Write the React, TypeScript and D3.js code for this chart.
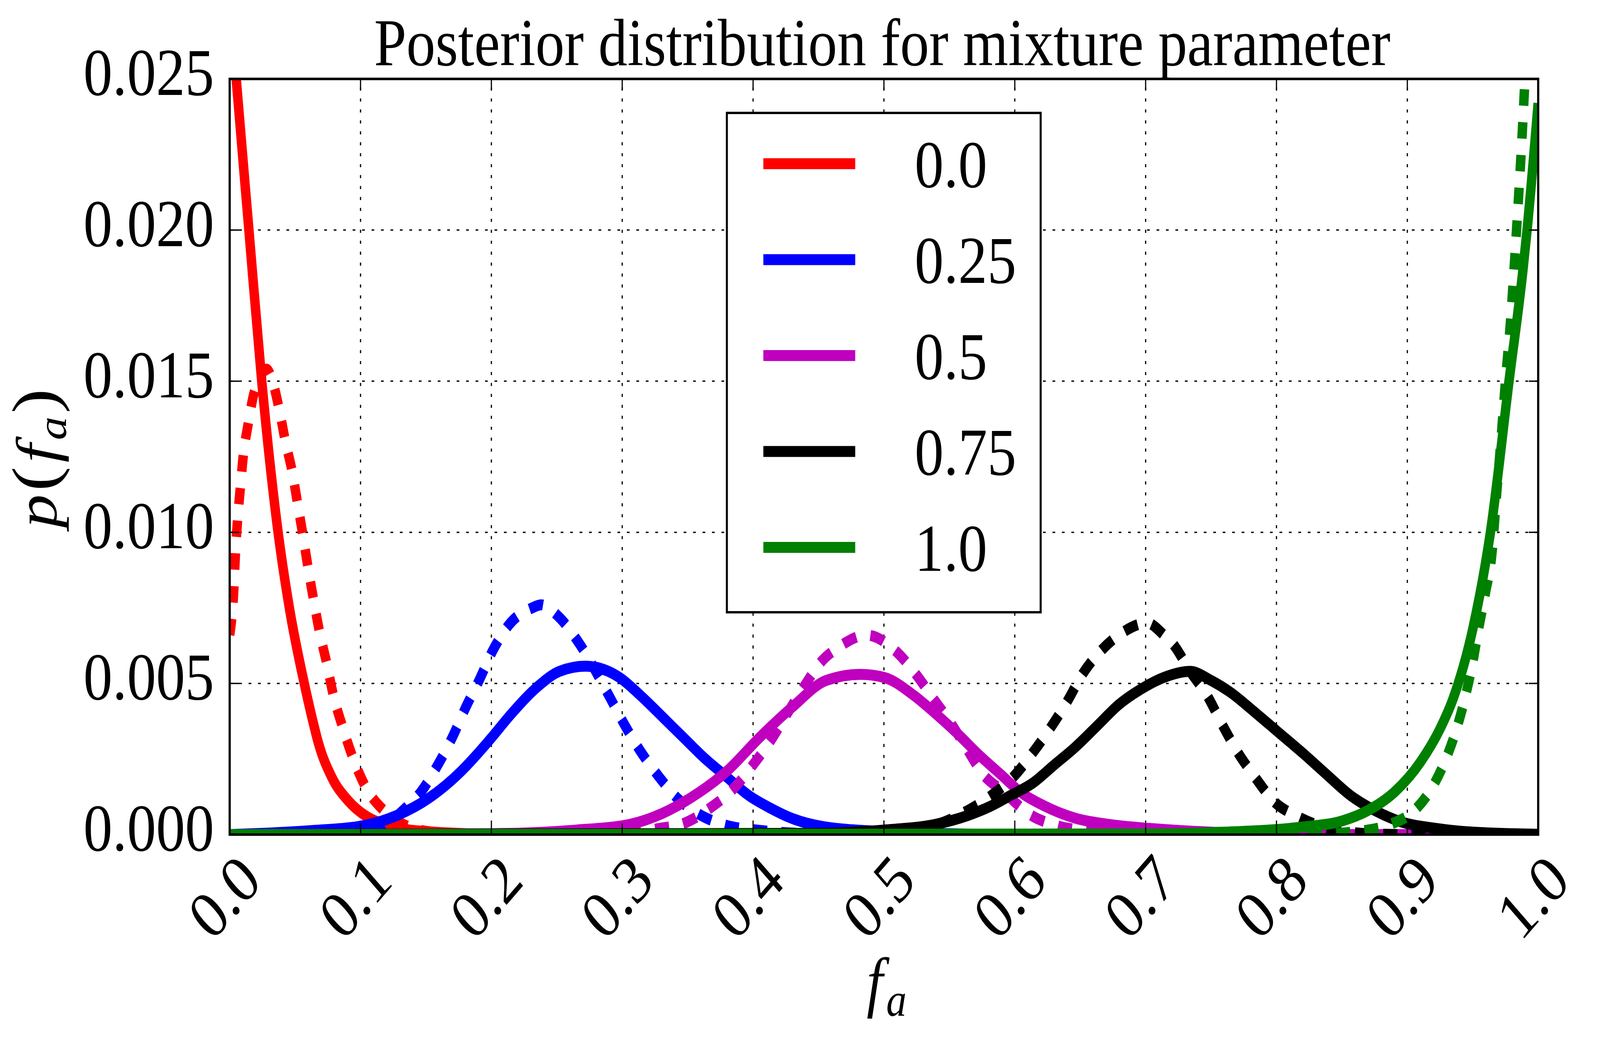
import { useEffect } from "react";
import * as d3 from "d3";

// Posterior distribution for the mixture parameter f_a.
// Solid = one estimator, dashed = the other, one colour per true mixture value.

const WIDTH = 4737;
const HEIGHT = 2672;
const PLOT = { left: 680, right: 4554, top: 202, bottom: 2136 };
const FONT = '"Liberation Serif","Times New Roman",serif';
const FS = 172;

const X_TICKS = [0, 0.1, 0.2, 0.3, 0.4, 0.5, 0.6, 0.7, 0.8, 0.9, 1.0];
const Y_TICKS = [0, 0.005, 0.01, 0.015, 0.02, 0.025];

const LEGEND_LABELS = ["0.0", "0.25", "0.5", "0.75", "1.0"];
const COLORS = ["#ff0000", "#0000ff", "#bf00bf", "#000000", "#008000"];

// [f_a, p(f_a)]
const RED_SOLID: [number, number][] = [
  [0, 0.0278], [0.005, 0.025], [0.0147, 0.02], [0.0245, 0.015], [0.037, 0.01],
  [0.046, 0.0074], [0.057, 0.005], [0.0633, 0.0038], [0.068, 0.003], [0.078, 0.0019],
  [0.091, 0.0011], [0.1046, 0.0006], [0.117, 0.00035], [0.13, 0.0002], [0.15, 0.0001],
  [0.18, 0.00003], [0.22, 0], [1.0, 0],
];
const RED_DASHED: [number, number][] = [
  [0, 0.0066], [0.003, 0.008], [0.0045, 0.0094], [0.006, 0.0104], [0.0082, 0.0115],
  [0.0103, 0.0125], [0.0142, 0.0136], [0.018, 0.0145], [0.023, 0.0151], [0.028, 0.0154],
  [0.032, 0.0151], [0.0377, 0.0141], [0.0426, 0.013], [0.0478, 0.012], [0.0519, 0.01095],
  [0.056, 0.0099], [0.06, 0.0088], [0.064, 0.0078], [0.0687, 0.0067], [0.074, 0.0057],
  [0.0793, 0.0046], [0.086, 0.0036], [0.0937, 0.0026], [0.1036, 0.0016], [0.1177, 0.0008],
  [0.13, 0.0004], [0.145, 0.00015], [0.17, 0.00003], [0.2, 0], [1.0, 0],
];
const BLUE_SOLID: [number, number][] = [
  [0, 0], [0.03, 0.00005], [0.062, 0.00013], [0.103, 0.0003], [0.1276, 0.00063],
  [0.152, 0.0012], [0.177, 0.0021], [0.19, 0.0027], [0.2, 0.0032], [0.2154, 0.004],
  [0.2355, 0.0049], [0.252, 0.0054], [0.272, 0.00557], [0.2978, 0.0052], [0.314, 0.0046],
  [0.3306, 0.0039], [0.347, 0.0032], [0.3636, 0.0025], [0.38, 0.0019], [0.3965, 0.0013],
  [0.413, 0.00088], [0.4295, 0.00054], [0.454, 0.00026], [0.5, 0.0001], [0.55, 0.00003],
  [0.6, 0], [1.0, 0],
];
const BLUE_DASHED: [number, number][] = [
  [0, 0], [0.08, 0], [0.1, 0.00005], [0.115, 0.0002], [0.1325, 0.0008], [0.1465, 0.00143],
  [0.159, 0.0023], [0.1705, 0.00325], [0.1803, 0.0042], [0.1906, 0.0051], [0.2012, 0.0061],
  [0.2136, 0.00695], [0.2312, 0.0075], [0.238, 0.0076], [0.2516, 0.0072], [0.266, 0.0064],
  [0.2898, 0.0046], [0.3009, 0.0037], [0.3133, 0.0028], [0.3265, 0.002], [0.3422, 0.0012],
  [0.36, 0.00064], [0.38, 0.0003], [0.405, 0.00014], [0.43, 0.00005], [0.48, 0], [1.0, 0],
];
const MAGENTA_SOLID: [number, number][] = [
  [0, 0], [0.2, 0.00003], [0.265, 0.00015], [0.306, 0.00034], [0.3306, 0.0007],
  [0.3554, 0.0013], [0.38, 0.0021], [0.4047, 0.0032], [0.4295, 0.0042], [0.456, 0.0051],
  [0.482, 0.0053], [0.5, 0.0052], [0.523, 0.0046], [0.5395, 0.004], [0.556, 0.00335],
  [0.5723, 0.00265], [0.589, 0.002], [0.6054, 0.00137], [0.622, 0.00096], [0.6464, 0.00054],
  [0.671, 0.00034], [0.704, 0.0002], [0.75, 0.00008], [0.8, 0.00002], [0.85, 0], [1.0, 0],
];
const MAGENTA_DASHED: [number, number][] = [
  [0, 0], [0.28, 0.00002], [0.3, 0.00006], [0.3277, 0.0002], [0.3487, 0.0004],
  [0.3678, 0.0009], [0.3846, 0.0015], [0.3998, 0.0023], [0.4133, 0.0031], [0.426, 0.004],
  [0.439, 0.0049], [0.4517, 0.0057], [0.4654, 0.0062], [0.4868, 0.0066], [0.5083, 0.0061],
  [0.5245, 0.0053], [0.5377, 0.0045], [0.551, 0.0037], [0.5625, 0.0029], [0.5757, 0.002],
  [0.592, 0.0014], [0.6103, 0.0007], [0.6317, 0.0003], [0.6547, 0.00013], [0.7, 0.00002],
  [0.75, 0], [1.0, 0],
];
const BLACK_SOLID: [number, number][] = [
  [0, 0], [0.45, 0.00004], [0.5, 0.00015], [0.5395, 0.00034], [0.564, 0.00063],
  [0.5806, 0.00092], [0.597, 0.0013], [0.6136, 0.0017], [0.63, 0.0023], [0.6464, 0.0029],
  [0.663, 0.0036], [0.6795, 0.0043], [0.696, 0.0048], [0.714, 0.0052], [0.734, 0.0054],
  [0.75, 0.0051], [0.765, 0.0047], [0.782, 0.0041], [0.801, 0.0034], [0.82, 0.0027],
  [0.838, 0.002], [0.857, 0.00128], [0.876, 0.00078], [0.8946, 0.00043], [0.9228, 0.0002],
  [0.95, 0.00008], [1.0, 0.00001],
];
const BLACK_DASHED: [number, number][] = [
  [0, 0], [0.45, 0], [0.48, 0.00003], [0.52, 0.00015], [0.543, 0.00037], [0.5643, 0.0008],
  [0.5823, 0.0013], [0.5987, 0.0019], [0.6136, 0.0027], [0.6268, 0.0035], [0.64, 0.0044],
  [0.6516, 0.0053], [0.6663, 0.0061], [0.6828, 0.0067], [0.701, 0.007], [0.714, 0.0066],
  [0.721, 0.0063], [0.734, 0.0054], [0.747, 0.0046], [0.759, 0.0036], [0.7707, 0.0027],
  [0.7836, 0.0019], [0.798, 0.0011], [0.816, 0.0006], [0.84, 0.0002], [0.87, 0.00003],
  [0.9, 0], [1.0, 0],
];
const GREEN_SOLID: [number, number][] = [
  [0, 0], [0.7, 0.00002], [0.76, 0.00008], [0.8197, 0.00025], [0.85, 0.00045],
  [0.87, 0.0008], [0.89, 0.0014], [0.91, 0.0024], [0.925, 0.0035], [0.935, 0.0045],
  [0.95, 0.0068], [0.9635, 0.01], [0.9777, 0.015], [0.9884, 0.0187], [0.9915, 0.02],
  [1.0, 0.0242],
];
const GREEN_DASHED: [number, number][] = [
  [0, 0], [0.8, 0], [0.84, 0.00003], [0.862, 0.0001], [0.887, 0.00034], [0.906, 0.00082],
  [0.9199, 0.00163], [0.93, 0.00256], [0.938, 0.00355], [0.9445, 0.0046], [0.95, 0.0057],
  [0.954, 0.0067], [0.9597, 0.008], [0.9644, 0.0092], [0.9683, 0.0113], [0.972, 0.0133],
  [0.975, 0.015], [0.9787, 0.0169], [0.9814, 0.0186], [0.9843, 0.0206], [0.9873, 0.0228],
  [0.9897, 0.0248], [0.992, 0.0266],
];

const SOLID_SERIES = [RED_SOLID, BLUE_SOLID, MAGENTA_SOLID, BLACK_SOLID, GREEN_SOLID];
const DASHED_SERIES = [RED_DASHED, BLUE_DASHED, MAGENTA_DASHED, BLACK_DASHED, GREEN_DASHED];

const LINE_W = 28;
const TICK_LEN = 28;

export default function App() {
  // drop the default body margin so the figure fills the page
  useEffect(() => {
    document.body.style.margin = "0";
    document.documentElement.style.overflow = "hidden";
  }, []);

  const x = d3.scaleLinear().domain([0, 1]).range([PLOT.left, PLOT.right]);
  const y = d3.scaleLinear().domain([0, 0.025]).range([PLOT.bottom, PLOT.top]);
  const line = d3
    .line<[number, number]>()
    .x((d) => x(d[0]))
    .y((d) => y(d[1]))
    .curve(d3.curveMonotoneX);

  const plotW = PLOT.right - PLOT.left;
  const plotH = PLOT.bottom - PLOT.top;
  const cx = (PLOT.left + PLOT.right) / 2;

  // legend layout
  const LEG = { x0: 2152, x1: 3081, y0: 289, y1: 1567 };
  const legRowY = (i: number) => 419 + i * 245.5;

  return (
    <svg
      viewBox={`0 0 ${WIDTH} ${HEIGHT}`}
      preserveAspectRatio="none"
      style={{
        position: "fixed",
        left: 0,
        top: 0,
        width: "100vw",
        height: "100vh",
        display: "block",
        background: "#fff",
      }}
      fontFamily={FONT}
    >
      <defs>
        <clipPath id="plot-clip">
          <rect x={PLOT.left} y={PLOT.top} width={plotW} height={plotH} />
        </clipPath>
      </defs>
      <rect width={WIDTH} height={HEIGHT} fill="#fff" />

      {/* grid */}
      <g stroke="#000" strokeWidth={3.5} strokeDasharray="8 20">
        {X_TICKS.map((t) => (
          <line key={`gx${t}`} x1={x(t)} x2={x(t)} y1={PLOT.bottom} y2={PLOT.top} />
        ))}
        {Y_TICKS.map((t) => (
          <line key={`gy${t}`} x1={PLOT.left} x2={PLOT.right} y1={y(t)} y2={y(t)} />
        ))}
      </g>

      {/* curves */}
      <g clipPath="url(#plot-clip)" fill="none">
        {SOLID_SERIES.map((s, i) => (
          <g key={`s${i}`}>
            <path d={line(s) ?? ""} stroke={COLORS[i]} strokeWidth={LINE_W} strokeLinejoin="round" />
            <path
              d={line(DASHED_SERIES[i]) ?? ""}
              stroke={COLORS[i]}
              strokeWidth={LINE_W}
              strokeDasharray="42 42"
              strokeLinejoin="round"
            />
          </g>
        ))}
      </g>

      {/* ticks (inward, all four sides) */}
      <g stroke="#000" strokeWidth={3.5}>
        {X_TICKS.map((t) => (
          <g key={`tx${t}`}>
            <line x1={x(t)} x2={x(t)} y1={PLOT.bottom} y2={PLOT.bottom - TICK_LEN} />
            <line x1={x(t)} x2={x(t)} y1={PLOT.top} y2={PLOT.top + TICK_LEN} />
          </g>
        ))}
        {Y_TICKS.map((t) => (
          <g key={`ty${t}`}>
            <line x1={PLOT.left} x2={PLOT.left + TICK_LEN} y1={y(t)} y2={y(t)} />
            <line x1={PLOT.right} x2={PLOT.right - TICK_LEN} y1={y(t)} y2={y(t)} />
          </g>
        ))}
      </g>

      {/* frame */}
      <rect
        x={PLOT.left}
        y={PLOT.top}
        width={plotW}
        height={plotH}
        fill="none"
        stroke="#000"
        strokeWidth={6.5}
      />

      {/* y tick labels */}
      {Y_TICKS.map((t) => (
        <text key={`ly${t}`} x={634} y={y(t) + 41} textAnchor="end" fontSize={FS} fill="#000">
          {d3.format(".3f")(t)}
        </text>
      ))}

      {/* x tick labels, rotated 45 degrees */}
      {X_TICKS.map((t) => (
        <text
          key={`lx${t}`}
          transform={`translate(${x(t) - 17},${2295}) rotate(-45)`}
          textAnchor="middle"
          dy="0.34em"
          fontSize={FS}
          fill="#000"
        >
          {d3.format(".1f")(t)}
        </text>
      ))}

      {/* title */}
      <text x={cx - 5} y={167} textAnchor="middle" fontSize={FS} fill="#000">
        Posterior distribution for mixture parameter
      </text>

      {/* axis labels */}
      <text x={cx + 8} y={2570} textAnchor="middle" fontSize={FS} fill="#000">
        <tspan fontStyle="italic">f</tspan>
        <tspan fontStyle="italic" fontSize={FS * 0.7} dx={10} dy={30}>a</tspan>
      </text>
      <text
        transform={`translate(166,1173) rotate(-90)`}
        textAnchor="middle"
        fontSize={FS}
        fill="#000"
      >
        <tspan fontStyle="italic">p</tspan>
        <tspan dx={8} fontSize={FS * 1.1}>(</tspan>
        <tspan dx={10} fontStyle="italic">f</tspan>
        <tspan fontStyle="italic" fontSize={FS * 0.7} dx={10} dy={30}>a</tspan>
        <tspan dx={8} dy={-30} fontSize={FS * 1.1}>)</tspan>
      </text>

      {/* legend */}
      <g>
        <rect
          x={LEG.x0}
          y={LEG.y0}
          width={LEG.x1 - LEG.x0}
          height={LEG.y1 - LEG.y0}
          fill="#fff"
          stroke="#000"
          strokeWidth={6}
        />
        {LEGEND_LABELS.map((lab, i) => (
          <g key={lab}>
            <line
              x1={2260}
              x2={2532}
              y1={legRowY(i)}
              y2={legRowY(i)}
              stroke={COLORS[i]}
              strokeWidth={LINE_W}
            />
            <text x={2708} y={legRowY(i) + 60} fontSize={FS} fill="#000">
              {lab}
            </text>
          </g>
        ))}
      </g>
    </svg>
  );
}
